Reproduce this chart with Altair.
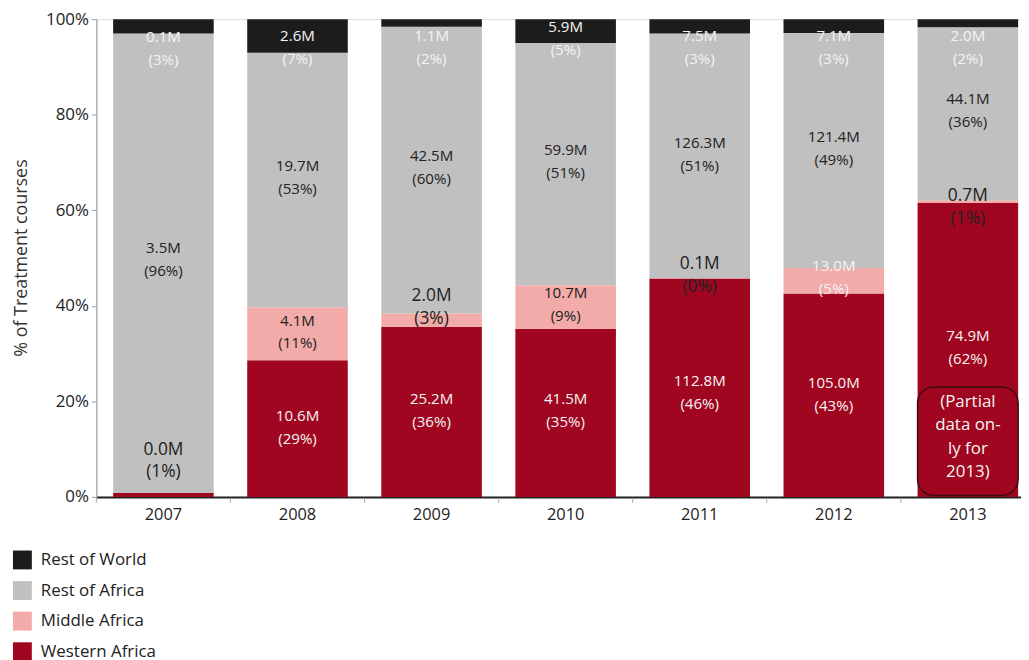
import altair as alt
import pandas as pd

years = ["2007", "2008", "2009", "2010", "2011", "2012", "2013"]
regions = ["Western Africa", "Middle Africa", "Rest of Africa", "Rest of World"]  # bottom -> top
legend_order = ["Rest of World", "Rest of Africa", "Middle Africa", "Western Africa"]
colors = ["#1c1c1c", "#c0c0c0", "#f2aba8", "#a0061f"]

# share of treatment courses (%)
share_western = [0.8, 28.6, 35.6, 35.2, 45.7, 42.6, 61.5]
share_middle = [0.0, 11.1, 2.8, 9.1, 0.1, 5.3, 0.6]
share_rest_africa = [96.2, 53.3, 60.0, 50.7, 51.2, 49.2, 36.2]
share_rest_world = [3.0, 7.0, 1.6, 5.0, 3.0, 2.9, 1.7]

# treatment courses (millions), as labelled
courses_western = ["0.0", "10.6", "25.2", "41.5", "112.8", "105.0", "74.9"]
courses_middle = [None, "4.1", "2.0", "10.7", "0.1", "13.0", "0.7"]
courses_rest_africa = ["3.5", "19.7", "42.5", "59.9", "126.3", "121.4", "44.1"]
courses_rest_world = ["0.1", "2.6", "1.1", "5.9", "7.5", "7.1", "2.0"]

# percentage labels
pct_western = [1, 29, 36, 35, 46, 43, 62]
pct_middle = [None, 11, 3, 9, 0, 5, 1]
pct_rest_africa = [96, 53, 60, 51, 51, 49, 36]
pct_rest_world = [3, 7, 2, 5, 3, 3, 2]

# label anchors (centre of the two-line label) on the % axis
anchor_western = [7.5, 14.6, 18.0, 18.0, 21.9, 21.4, 31.3]
anchor_middle = [None, 34.5, 39.7, 40.3, 46.3, 45.9, 60.6]
anchor_rest_africa = [49.7, 66.9, 69.0, 70.2, 71.7, 72.9, 80.9]
anchor_rest_world = [93.8, 94.0, 94.0, 95.9, 94.0, 94.0, 94.0]

note_text = "(Partial\ndata on-\nly for\n2013)"
note_year = "2013"
note_anchor = 12.5
note_box = (0.3, 23.0)

y_title = "% of Treatment courses"

shares = [share_western, share_middle, share_rest_africa, share_rest_world]
courses = [courses_western, courses_middle, courses_rest_africa, courses_rest_world]
pcts = [pct_western, pct_middle, pct_rest_africa, pct_rest_world]
anchors = [anchor_western, anchor_middle, anchor_rest_africa, anchor_rest_world]

bar_rows, label_rows = [], []
for k, reg in enumerate(regions):
    for i, yr in enumerate(years):
        bar_rows.append({"year": yr, "region": reg, "share": shares[k][i], "order": k})
        if courses[k][i] is None:
            continue
        light = (reg == "Rest of World") or (reg == "Western Africa" and yr != "2007") or (reg == "Middle Africa" and yr == "2012")
        big = (reg == "Western Africa" and yr == "2007") or (reg == "Middle Africa" and yr in ("2009", "2011", "2013"))
        label_rows.append({
            "year": yr,
            "pos": anchors[k][i],
            "label": f"{courses[k][i]}M\n({pcts[k][i]}%)",
            "tone": "light" if light else "dark",
            "big": "big" if big else "normal",
        })

bars_df = pd.DataFrame(bar_rows)
labels_df = pd.DataFrame(label_rows)
years_df = pd.DataFrame({"year": years})
note_df = pd.DataFrame({"year": [note_year], "pos": [note_anchor], "label": [note_text],
                        "lo": [note_box[0]], "hi": [note_box[1]]})

FONT = "Open Sans"
xscale = alt.Scale(domain=years, range=[0, 945], paddingInner=0, paddingOuter=0)
yscale = alt.Scale(domain=[0, 100], nice=False)
LH = 23

bars = alt.Chart(bars_df).mark_bar(width={"band": 0.75}).encode(
    x=alt.X("year:N", scale=xscale, sort=years, title=None,
            axis=alt.Axis(ticks=False, labelFontSize=16.5, labelColor="#222",
                          labelFont=FONT, labelPadding=10, labelAngle=0,
                          domainColor="#222", domainWidth=2)),
    y=alt.Y("share:Q", stack="zero", scale=yscale, title=y_title,
            axis=alt.Axis(values=[0, 20, 40, 60, 80, 100], labelExpr="datum.value + '%'",
                          titleFont=FONT, titleFontSize=18,
                          titleFontWeight="normal", titleColor="#333", titleX=-75, titleY=240,
                          titleAlign="center", titleBaseline="middle", titleAngle=-90,
                          labelFontSize=17, labelColor="#222", labelFont=FONT, labelPadding=3,
                          tickSize=5, tickColor="#999", domainColor="#999", grid=False)),
    color=alt.Color("region:N", scale=alt.Scale(domain=legend_order, range=colors),
                    legend=alt.Legend(title=None, orient="none", legendX=-84, legendY=535,
                                      symbolType="square", symbolSize=361, symbolStrokeWidth=0,
                                      symbolOpacity=1, labelFontSize=17, labelColor="#222",
                                      labelFont=FONT, rowPadding=11.8, labelOffset=9, padding=0)),
    order=alt.Order("order:Q", sort="ascending"),
)

ticks = alt.Chart(years_df).mark_rule(color="#aaa", strokeWidth=1).encode(
    x=alt.X("year:N", scale=xscale, sort=years, bandPosition=0, title=None),
    y=alt.value(482), y2=alt.value(487),
)

labels = alt.Chart(labels_df).mark_text(font=FONT, lineBreak="\n", lineHeight=LH, dy=-LH / 2,
                                        baseline="middle", align="center").encode(
    x=alt.X("year:N", scale=xscale, sort=years, title=None),
    y=alt.Y("pos:Q", scale=yscale, title=y_title),
    text="label:N",
    color=alt.Color("tone:N", scale=alt.Scale(domain=["light", "dark"], range=["#f4f4f4", "#222"]), legend=None),
    size=alt.Size("big:N", scale=alt.Scale(domain=["normal", "big"], range=[15.2, 17.5]), legend=None),
)

box = alt.Chart(note_df).mark_bar(width={"band": 0.75}, fillOpacity=0, stroke="#3a0c14",
                                  strokeWidth=1.5, cornerRadius=16).encode(
    x=alt.X("year:N", scale=xscale, sort=years, title=None),
    y=alt.Y("lo:Q", scale=yscale, title=y_title),
    y2="hi:Q",
)

note = alt.Chart(note_df).mark_text(font=FONT, fontSize=17, lineBreak="\n", lineHeight=23.5,
                                    dy=-1.5 * 23.5, baseline="middle", align="center",
                                    color="#f4f4f4").encode(
    x=alt.X("year:N", scale=xscale, sort=years, title=None),
    y=alt.Y("pos:Q", scale=yscale, title=y_title),
    text="label:N",
)

chart = alt.layer(bars, ticks, labels, box, note).resolve_scale(color="independent").properties(
    width=931, height=481,
    autosize=alt.AutoSizeParams(type="none"),
    padding={"left": 89, "top": 9, "right": 0, "bottom": 166},
).configure_view(stroke=None).configure(background="white")

chart.save("out.html", embed_options={"renderer": "svg", "actions": False})
